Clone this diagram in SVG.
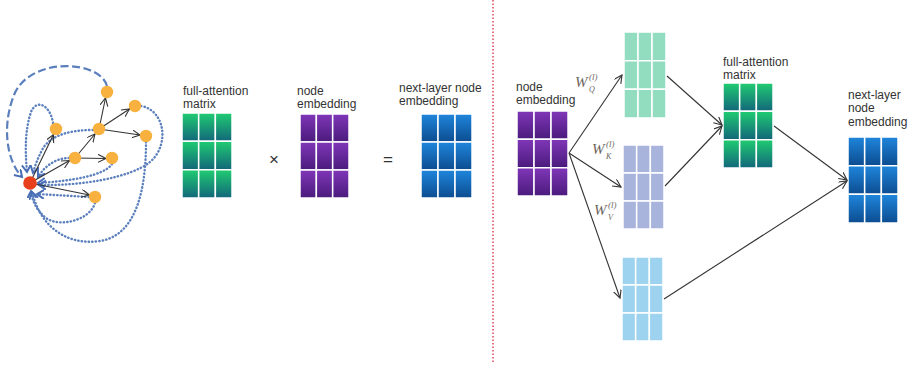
<svg xmlns="http://www.w3.org/2000/svg" xmlns:xlink="http://www.w3.org/1999/xlink" width="912" height="368" viewBox="0 0 912 368">
  <style>
    .lbl { font-family: "Liberation Sans", Arial, sans-serif; font-size: 12px; fill: #333; }
    .op { font-family: "Liberation Sans", Arial, sans-serif; font-size: 17px; fill: #333; }
    .w { font-family: "Liberation Serif", "Times New Roman", serif; font-style: italic; fill: #6e6660; }
    .arrow { fill: none; stroke: #333; stroke-width: 1.1; marker-end: url(#head); }
    .dot { fill: none; stroke: #5b7fbd; stroke-width: 2.4; stroke-dasharray: 0.4 3.1; stroke-linecap: round; marker-end: url(#bhead); }
    .dash { fill: none; stroke: #5b7fbd; stroke-width: 2.2; stroke-dasharray: 8 3.5; marker-end: url(#bhead); }
    .node { fill: #f8b13f; }
  </style>
  <defs>
    <linearGradient id="gGreen" x1="0" y1="0" x2="0" y2="1">
      <stop offset="0" stop-color="#20cc72"/>
      <stop offset="1" stop-color="#12667a"/>
    </linearGradient>
    <linearGradient id="gPurple" x1="0" y1="0" x2="0" y2="1">
      <stop offset="0" stop-color="#8036b8"/>
      <stop offset="1" stop-color="#4a1b7c"/>
    </linearGradient>
    <linearGradient id="gBlue" x1="0" y1="0" x2="0" y2="1">
      <stop offset="0" stop-color="#1f86dc"/>
      <stop offset="1" stop-color="#0c4c90"/>
    </linearGradient>
    <!-- 3x3 grid of cells, 48x84 units -->
    <g id="cells" stroke="#fff" stroke-width="1.5">
      <rect x="0" y="0" width="16" height="28" vector-effect="non-scaling-stroke"/>
      <rect x="16" y="0" width="16" height="28" vector-effect="non-scaling-stroke"/>
      <rect x="32" y="0" width="16" height="28" vector-effect="non-scaling-stroke"/>
      <rect x="0" y="28" width="16" height="28" vector-effect="non-scaling-stroke"/>
      <rect x="16" y="28" width="16" height="28" vector-effect="non-scaling-stroke"/>
      <rect x="32" y="28" width="16" height="28" vector-effect="non-scaling-stroke"/>
      <rect x="0" y="56" width="16" height="28" vector-effect="non-scaling-stroke"/>
      <rect x="16" y="56" width="16" height="28" vector-effect="non-scaling-stroke"/>
      <rect x="32" y="56" width="16" height="28" vector-effect="non-scaling-stroke"/>
    </g>
    <marker id="head" markerWidth="10" markerHeight="10" refX="8" refY="4" orient="auto" markerUnits="userSpaceOnUse">
      <path d="M0,0 L8,4 L0,8" fill="none" stroke="#333" stroke-width="1.1"/>
    </marker>
    <marker id="bhead" markerWidth="12" markerHeight="12" refX="7" refY="4.5" orient="auto" markerUnits="userSpaceOnUse">
      <path d="M0,0 L7,4.5 L0,9" fill="none" stroke="#4a6fb6" stroke-width="2"/>
    </marker>
  </defs>

  <!-- divider -->
  <line x1="493" y1="0" x2="493" y2="362" stroke="#e0506a" stroke-width="1.6" stroke-dasharray="1.5 2"/>

  <!-- left: graph -->
  <g id="graph">
    <path class="dash" d="M107,86 C100,60 30,56 14,95 C2,125 6,160 22,177"/>
    <path class="dot" d="M53,123 C50,104 36,99 31,112 C25,130 25,150 27,172"/>
    <path class="dot" d="M93,130 C70,130 50,135 42,150 C37,160 35,166 33,173"/>
    <path class="dot" d="M69,158 C58,158 46,164 38,177"/>
    <path class="dot" d="M112,164 C104,176 70,181 38,183"/>
    <path class="dot" d="M141,106 C165,110 170,145 150,162 C130,178 80,186 39,185"/>
    <path class="dot" d="M89,197 L37,194"/>
    <path class="dot" d="M95,203 C90,220 60,228 46,218 C36,210 32,200 31,191"/>
    <path class="dot" d="M146,142 C146,180 140,235 100,241 C65,246 40,225 32,192"/>

    <line class="arrow" x1="30" y1="183" x2="53.5" y2="134.5"/>
    <line class="arrow" x1="30" y1="183" x2="69.5" y2="160.5"/>
    <line class="arrow" x1="30" y1="183" x2="89.5" y2="195"/>
    <line class="arrow" x1="75" y1="158" x2="95" y2="134"/>
    <line class="arrow" x1="75" y1="158" x2="106" y2="158.5"/>
    <line class="arrow" x1="99" y1="129" x2="105.5" y2="98"/>
    <line class="arrow" x1="99" y1="129" x2="129.5" y2="109"/>
    <line class="arrow" x1="99" y1="129" x2="140" y2="135"/>

    <circle class="node" cx="107" cy="92" r="6.2"/>
    <circle class="node" cx="135" cy="106" r="6.2"/>
    <circle class="node" cx="99" cy="129" r="6.2"/>
    <circle class="node" cx="146" cy="136" r="6.2"/>
    <circle class="node" cx="56" cy="129" r="6.2"/>
    <circle class="node" cx="75" cy="158" r="6.2"/>
    <circle class="node" cx="112" cy="158" r="6.2"/>
    <circle class="node" cx="95" cy="197" r="6.2"/>
    <circle cx="30" cy="183" r="6.8" fill="#e8401c"/>
  </g>

  <!-- left: matrix product -->
  <g id="attn-left">
    <text class="lbl" x="183" y="95">full-attention</text>
    <text class="lbl" x="183" y="108">matrix</text>
    <use href="#cells" transform="translate(182,113) scale(1.042,1.012)" fill="url(#gGreen)"/>
  </g>
  <text class="op" x="269" y="165">×</text>
  <g id="emb-left">
    <text class="lbl" x="297" y="95">node</text>
    <text class="lbl" x="297" y="108">embedding</text>
    <use href="#cells" transform="translate(300,114) scale(1.021,1)" fill="url(#gPurple)"/>
  </g>
  <text class="op" x="383" y="165">=</text>
  <g id="next-left">
    <text class="lbl" x="399" y="92">next-layer node</text>
    <text class="lbl" x="399" y="105">embedding</text>
    <use href="#cells" transform="translate(421,114) scale(1.063,1)" fill="url(#gBlue)"/>
  </g>

  <!-- right: attention pipeline -->
  <g id="emb-right">
    <text class="lbl" x="516" y="91">node</text>
    <text class="lbl" x="516" y="104">embedding</text>
    <use href="#cells" transform="translate(517,111) scale(1.063,1.012)" fill="url(#gPurple)"/>
  </g>
  <g id="query">
    <use href="#cells" transform="translate(624,32) scale(0.875,1.024)" fill="#92dcc0"/>
  </g>
  <g id="key">
    <use href="#cells" transform="translate(623,145) scale(0.854,1)" fill="#a8b4dc"/>
  </g>
  <g id="value">
    <use href="#cells" transform="translate(622,257) scale(0.854,1)" fill="#9dd3ee"/>
  </g>
  <g id="attn-right">
    <text class="lbl" x="723" y="66">full-attention</text>
    <text class="lbl" x="723" y="79">matrix</text>
    <use href="#cells" transform="translate(723,83) scale(1.042,1.012)" fill="url(#gGreen)"/>
  </g>
  <g id="next-right">
    <text class="lbl" x="848" y="99">next-layer</text>
    <text class="lbl" x="848" y="112">node</text>
    <text class="lbl" x="848" y="126">embedding</text>
    <use href="#cells" transform="translate(848,137) scale(1.042,1.024)" fill="url(#gBlue)"/>
  </g>

  <g id="weights">
    <text class="w" x="575" y="87" font-size="15">W</text>
    <text class="w" x="589" y="80" font-size="9">(l)</text>
    <text class="w" x="589" y="92" font-size="8">Q</text>
    <text class="w" x="592" y="154" font-size="15">W</text>
    <text class="w" x="606" y="147" font-size="9">(l)</text>
    <text class="w" x="606" y="159" font-size="8">K</text>
    <text class="w" x="594" y="215" font-size="15">W</text>
    <text class="w" x="608" y="208" font-size="9">(l)</text>
    <text class="w" x="608" y="220" font-size="8">V</text>
  </g>

  <g id="connectors">
    <line class="arrow" x1="569" y1="153" x2="622" y2="75"/>
    <line class="arrow" x1="569" y1="153" x2="621" y2="187"/>
    <line class="arrow" x1="569" y1="153" x2="620" y2="298"/>
    <line class="arrow" x1="667" y1="76" x2="722" y2="125"/>
    <line class="arrow" x1="665" y1="186" x2="722" y2="126"/>
    <line class="arrow" x1="774" y1="126" x2="847" y2="180"/>
    <line class="arrow" x1="664" y1="299" x2="847" y2="181"/>
  </g>
</svg>
